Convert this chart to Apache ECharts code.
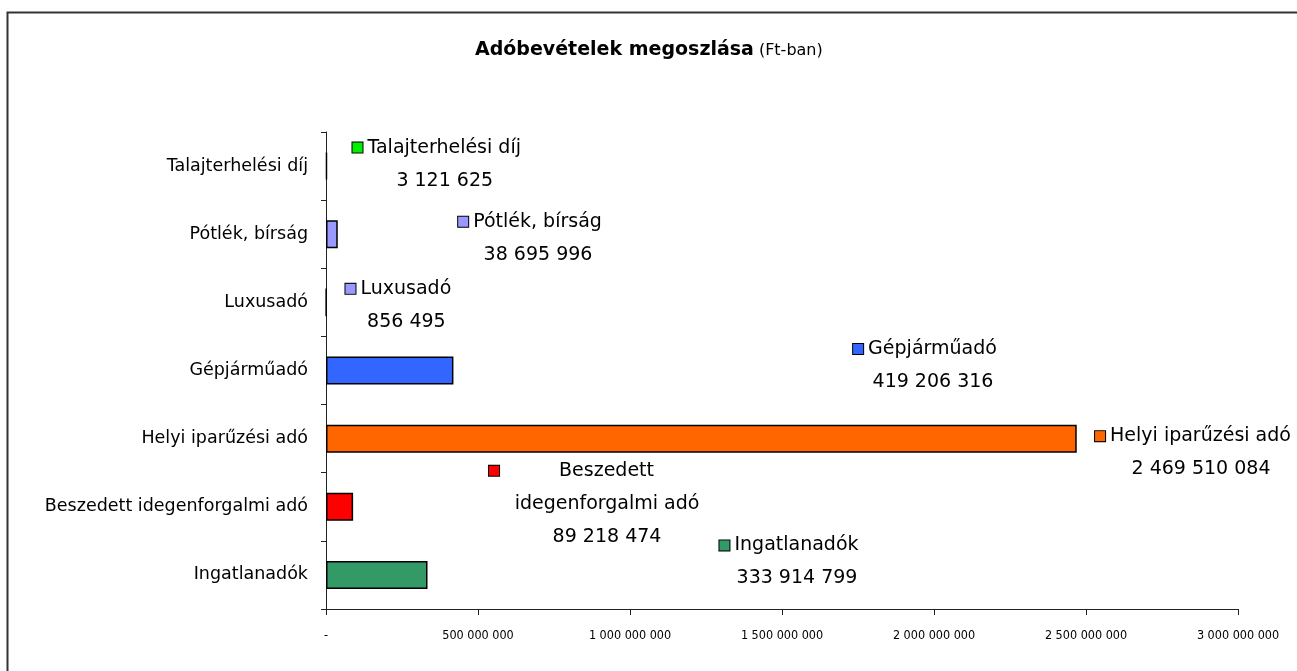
<!DOCTYPE html>
<html>
<head>
    <meta charset="utf-8">
    <script src="https://cdn.jsdelivr.net/npm/echarts@6/dist/echarts.min.js"></script>
    <style>
        html, body { margin: 0; padding: 0; background: #fff; }
    </style>
</head>
<body>
<div id="main" style="width: 1297px;height:671px;"></div>

<script type="text/javascript">
    // adatok (alulról felfelé, ahogy a kategóriatengely rajzolja)
    var categories = ['Ingatlanadók', 'Beszedett idegenforgalmi adó', 'Helyi iparűzési adó',
        'Gépjárműadó', 'Luxusadó', 'Pótlék, bírság', 'Talajterhelési díj'];
    var values = [333914799, 89218474, 2469510084, 419206316, 856495, 38695996, 3121625];
    var barColors = ['#339966', '#ff0000', '#ff6600', '#3366ff', '#9999ff', '#9999ff', '#00ee00'];
    var labelNames = ['Ingatlanadók', 'Beszedett\nidegenforgalmi adó', 'Helyi iparűzési adó',
        'Gépjárműadó', 'Luxusadó', 'Pótlék, bírság', 'Talajterhelési díj'];
    var xMax = 3000000000;
    var xStep = 500000000;

    // címkék eltolása (a kézzel áthúzott Excel címkék helye)
    var labelOffsets = [[471, -13], [281, -3], [875, 14], [607, -5], [81, 3], [212, 4], [119, -2]];

    var FONT = '"DejaVu Sans", "Noto Sans", sans-serif';

    function fmt(v) {
        if (v === 0) return '-';
        return String(v).replace(/\B(?=(\d{3})+(?!\d))/g, ' ');
    }

    var dom = document.getElementById("main");
    var myChart = echarts.init(dom);

    var seriesData = values.map(function (v, i) {
        var lines = labelNames[i].split('\n');
        var wide = lines.length > 1;
        var first = '{key|}{' + (wide ? 'gw' : 'g') + '|}' + lines[0] + '{' + (wide ? 'pw' : 'p') + '|}';
        var rest = lines.slice(1).concat([fmt(v)]);
        return {
            value: v,
            itemStyle: { color: barColors[i] },
            label: {
                show: true,
                position: 'insideLeft',
                distance: 0,
                align: 'center',
                verticalAlign: 'middle',
                offset: labelOffsets[i],
                formatter: [first].concat(rest).join('\n'),
                fontFamily: FONT,
                fontSize: 19,
                color: '#000',
                lineHeight: 33,
                rich: {
                    key: {
                        width: 10, height: 10,
                        backgroundColor: barColors[i],
                        borderColor: '#000', borderWidth: 1
                    },
                    g: { width: 5 },
                    p: { width: 16 },
                    gw: { width: 60 },
                    pw: { width: 71 }
                }
            }
        };
    });

    var option = {
        animation: false,
        backgroundColor: '#fff',
        title: {
            text: '{b|Adóbevételek megoszlása} {n|(Ft-ban)}',
            left: 470,
            top: 36,
            textStyle: {
                rich: {
                    b: { fontFamily: FONT, fontWeight: 'bold', fontSize: 19, color: '#000' },
                    n: { fontFamily: FONT, fontWeight: 'normal', fontSize: 16, color: '#000' }
                }
            }
        },
        graphic: [{
            type: 'rect',
            shape: { x: 7.5, y: 12.5, width: 1320, height: 700 },
            style: { fill: 'none', stroke: '#333', lineWidth: 2 },
            silent: true
        }],
        grid: { left: 326, right: 59, top: 132, bottom: 62 },
        xAxis: {
            type: 'value',
            min: 0,
            max: xMax,
            interval: xStep,
            splitLine: { show: false },
            axisLine: { show: true, lineStyle: { color: '#222', width: 1 } },
            axisTick: { show: true, length: 6, lineStyle: { color: '#222' } },
            axisLabel: {
                formatter: fmt,
                margin: 20,
                fontFamily: '"DejaVu Sans Condensed", "Liberation Sans Narrow", "Liberation Sans", sans-serif',
                fontSize: 12.5,
                color: '#000'
            }
        },
        yAxis: {
            type: 'category',
            data: categories,
            axisLine: { show: true, lineStyle: { color: '#222', width: 1 } },
            axisTick: { show: true, length: 5, lineStyle: { color: '#222' } },
            axisLabel: {
                margin: 18,
                fontFamily: FONT,
                fontSize: 17.5,
                color: '#000'
            }
        },
        series: [{
            type: 'bar',
            barWidth: 28,
            data: seriesData,
            itemStyle: { borderColor: '#000', borderWidth: 1.5 }
        }]
    };

    myChart.setOption(option, true);
</script>
</body>
</html>
